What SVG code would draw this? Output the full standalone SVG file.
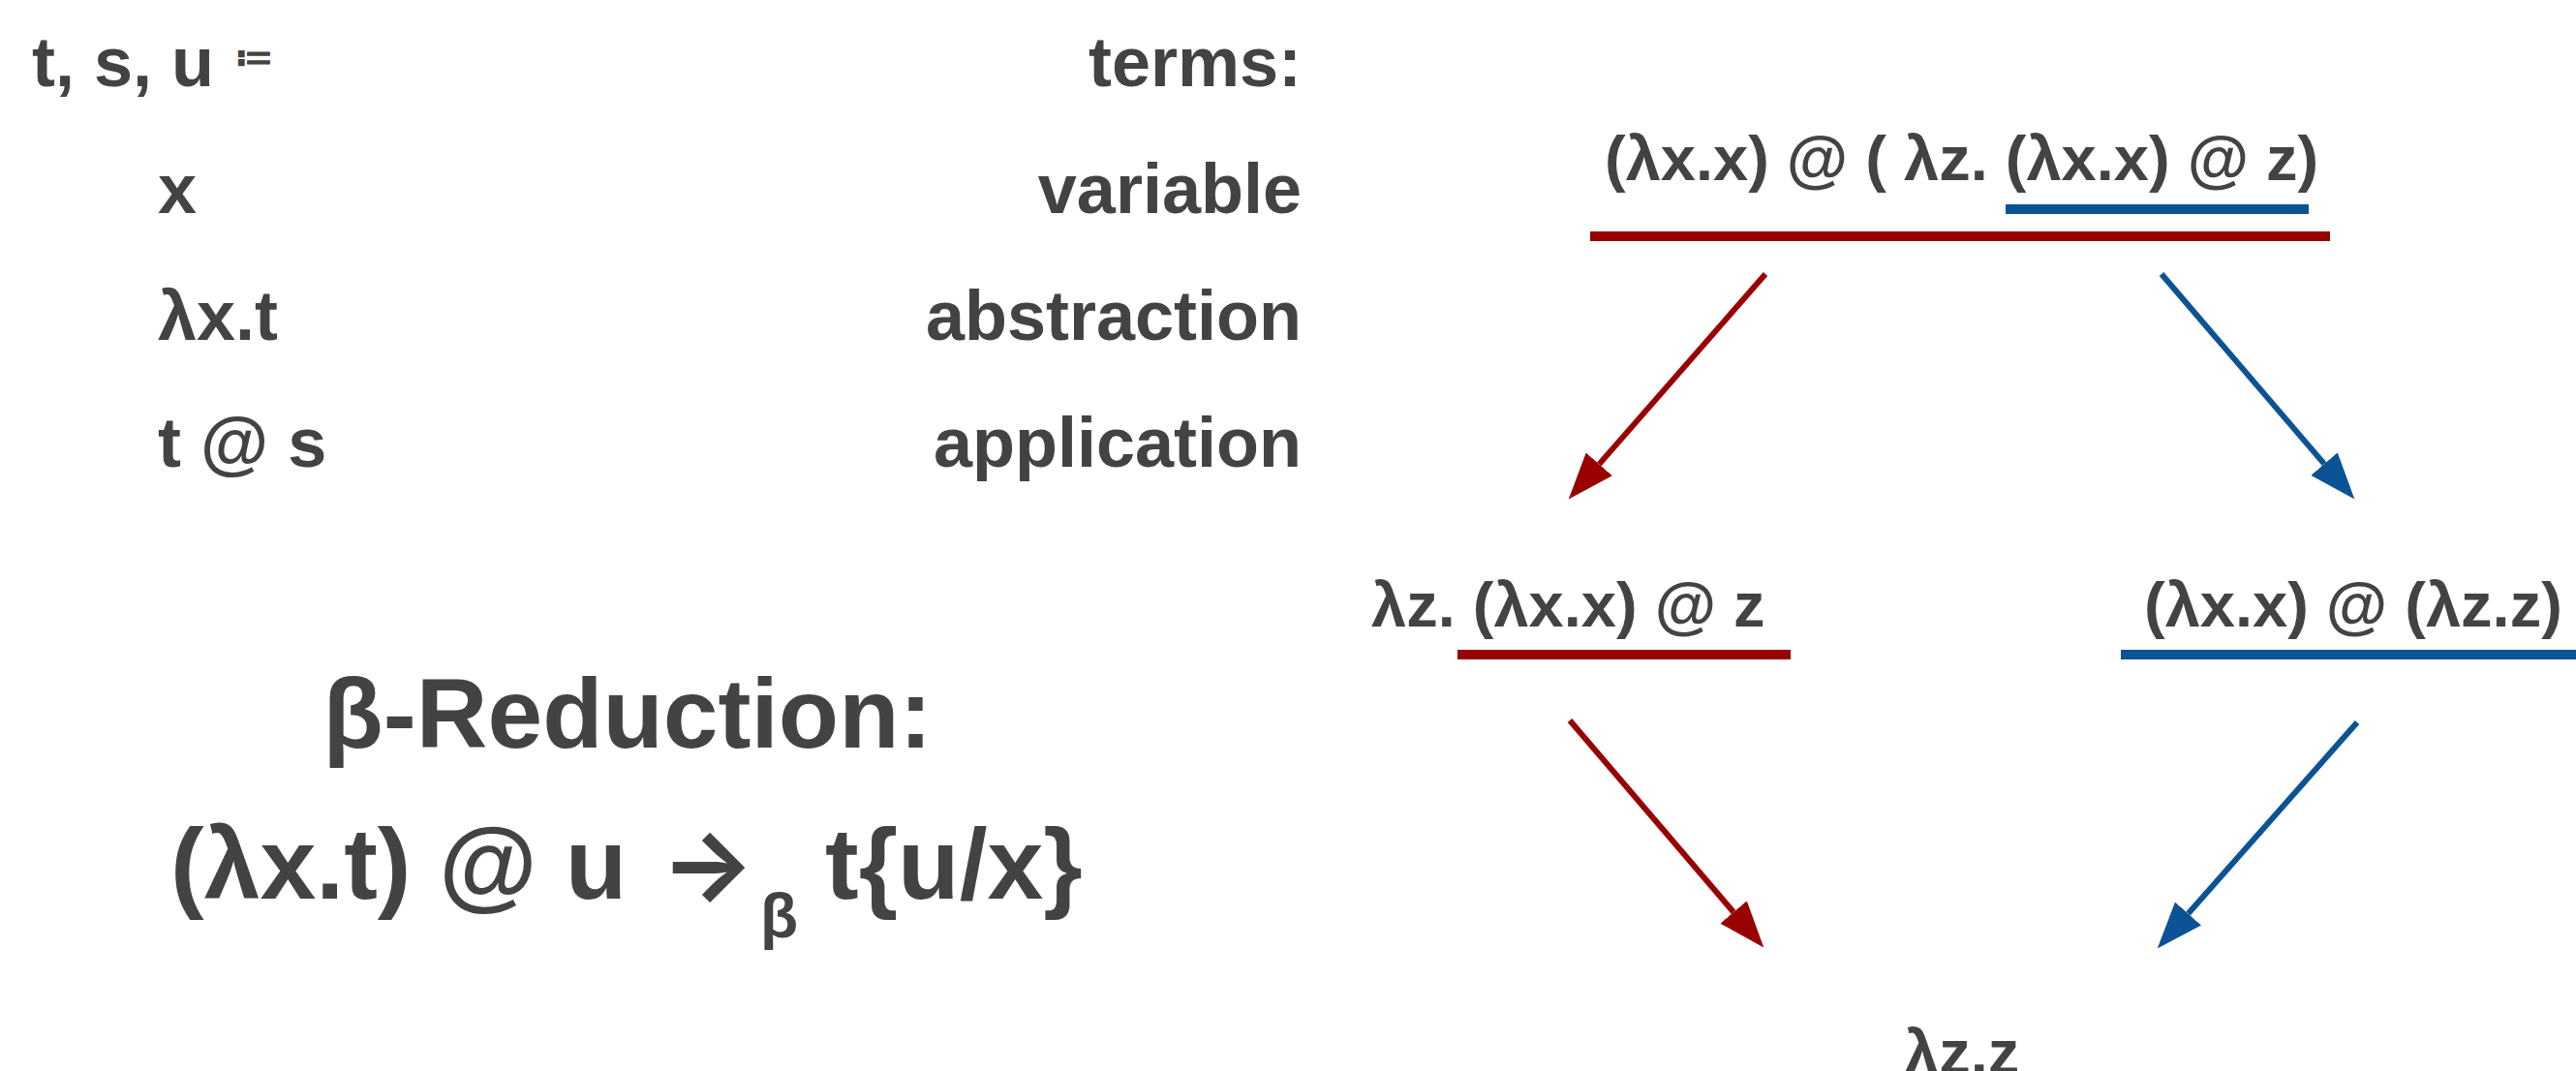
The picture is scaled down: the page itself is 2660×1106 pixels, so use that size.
<svg xmlns="http://www.w3.org/2000/svg" width="2660" height="1106" viewBox="0 0 2660 1106">
<style>
text { font-family: "Liberation Sans", "DejaVu Sans", sans-serif; font-weight: bold; fill: #434343; }
.lg { font-size: 72px; }
.term { font-size: 65px; }
.big { font-size: 102px; }
.red { stroke: #990000; }
.blue { stroke: #0b5394; }
.ul { stroke-width: 10; fill: none; }
.conn line { stroke-width: 6; fill: none; }
</style>
<defs>
<marker id="ahR" viewBox="0 0 48 36" refX="0" refY="18" markerWidth="48" markerHeight="36" markerUnits="userSpaceOnUse" orient="auto"><path d="M0,0 L48,18 L0,36 z" fill="#990000"/></marker>
<marker id="ahB" viewBox="0 0 48 36" refX="0" refY="18" markerWidth="48" markerHeight="36" markerUnits="userSpaceOnUse" orient="auto"><path d="M0,0 L48,18 L0,36 z" fill="#0b5394"/></marker>
</defs>
<rect width="2660" height="1106" fill="#ffffff"/>

<g id="grammar">
<text class="lg" x="33" y="89">t, s, u</text>
<text x="242" y="72" style="font-family:'DejaVu Sans', sans-serif; font-size:38px">≔</text>
<text class="lg" x="1344" y="89" text-anchor="end">terms:</text>
<text class="lg" x="163" y="220">x</text>
<text class="lg" x="1344" y="220" text-anchor="end">variable</text>
<text class="lg" x="163" y="351">λx.t</text>
<text class="lg" x="1344" y="351" text-anchor="end">abstraction</text>
<text class="lg" x="163" y="482">t @ s</text>
<text class="lg" x="1344" y="482" text-anchor="end">application</text>
</g>

<g id="beta-rule">
<text class="big" x="648" y="772" text-anchor="middle">β-Reduction:</text>
<text x="176" y="928" style="font-size:104px">(λx.t) @ u</text>
<text x="682" y="928" style="font-family: Inter, sans-serif; font-size:102px">→</text>
<text x="785" y="968" style="font-size:64px">β</text>
<text x="852" y="928" style="font-size:104px">t{u/x}</text>
</g>

<g id="n-top">
<text class="term" x="1657" y="186">(λx.x) @ ( λz. (λx.x) @ z)</text>
<line class="ul blue" x1="2071" y1="216" x2="2384" y2="216"/>
<line class="ul red" x1="1642" y1="244" x2="2406" y2="244"/>
</g>

<g id="n-left">
<text class="term" x="1416" y="647">λz. (λx.x) @ z</text>
<line class="ul red" x1="1505" y1="676" x2="1849" y2="676"/>
</g>

<g id="n-right">
<text class="term" x="2214" y="647">(λx.x) @ (λz.z)</text>
<line class="ul blue" x1="2190" y1="676" x2="2660" y2="676"/>
</g>

<g id="n-bottom">
<text class="term" x="1966" y="1109">λz.z</text>
</g>

<g id="connectors" class="conn">
<line class="red" x1="1823" y1="283" x2="1651.3" y2="479.4" marker-end="url(#ahR)"/>
<line class="blue" x1="2232" y1="283" x2="2400.1" y2="479.1" marker-end="url(#ahB)"/>
<line class="red" x1="1621" y1="744" x2="1790.1" y2="942" marker-end="url(#ahR)"/>
<line class="blue" x1="2434" y1="746" x2="2259.5" y2="943.5" marker-end="url(#ahB)"/>
</g>
</svg>
